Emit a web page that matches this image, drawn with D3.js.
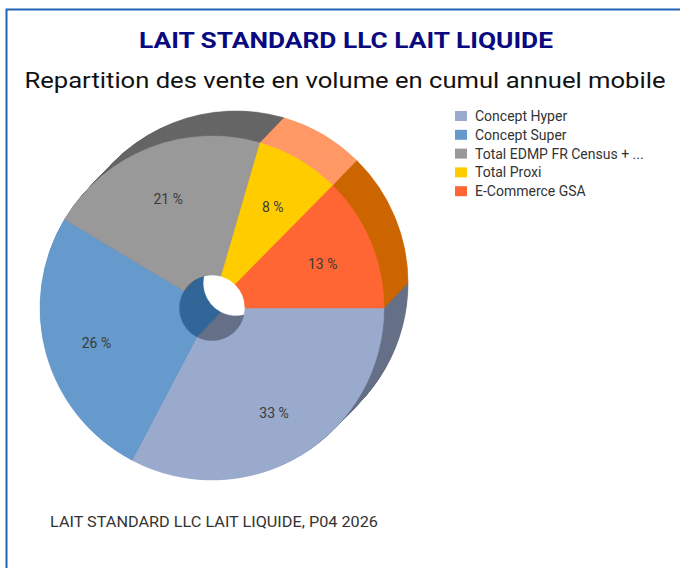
<!DOCTYPE html>
<html>
<head>
<meta charset="utf-8">
<script src="https://cdn.jsdelivr.net/npm/d3@7"></script>
<style>
  body { margin: 0; background: #fff; }
  svg { display: block; }
</style>
</head>
<body>
<svg id="chart" width="680" height="568"></svg>
<script>
const categories = ["Concept Hyper", "Concept Super", "Total EDMP FR Census + ...", "Total Proxi", "E-Commerce GSA"];
const shares = [32.7, 25.9, 20.9, 7.9, 12.6];
const frontColors = ["#99aacc", "#6699cc", "#999999", "#ffcc00", "#ff6633"];
const sideColors = ["#667088", "#336699", "#666666", "#ff9966", "#cc6600"];

const title = "LAIT STANDARD LLC LAIT LIQUIDE";
const subtitle = "Repartition des vente en volume en cumul annuel mobile";
const footer = "LAIT STANDARD LLC LAIT LIQUIDE, P04 2026";

const svg = d3.select("#chart");
const font = "Roboto, 'Noto Sans', sans-serif";

// frame
svg.append("path")
  .attr("d", "M6.5,700 V9.5 H700")
  .attr("fill", "none")
  .attr("stroke", "#1f62b4")
  .attr("stroke-width", 2);

svg.append("text")
  .attr("x", 346).attr("y", 48)
  .attr("text-anchor", "middle")
  .attr("font-family", font)
  .attr("font-weight", "bold")
  .attr("font-size", 22)
  .attr("fill", "#0a0a80")
  .attr("textLength", 414)
  .attr("lengthAdjust", "spacingAndGlyphs")
  .text(title);

svg.append("text")
  .attr("x", 345).attr("y", 88)
  .attr("text-anchor", "middle")
  .attr("font-family", font)
  .attr("font-size", 22)
  .attr("fill", "#111")
  .attr("textLength", 641)
  .attr("lengthAdjust", "spacingAndGlyphs")
  .text(subtitle);

// pie
const cx = 212, cy = 308, r = 172, hole = 33;
const depth = {x: 24, y: -25};

const pie = d3.pie().sort(null)
  .startAngle(Math.PI / 2)
  .endAngle(Math.PI / 2 + 2 * Math.PI);
const arcs = pie(shares);
const arc = d3.arc().innerRadius(hole).outerRadius(r);

// extruded sides: stack layers from the back to the front
const steps = 40;
for (let i = steps; i >= 1; i--) {
  const t = i / steps;
  svg.append("g")
    .attr("transform", `translate(${cx + depth.x * t},${cy + depth.y * t})`)
    .selectAll("path")
    .data(arcs)
    .join("path")
    .attr("d", arc)
    .attr("fill", (d, j) => sideColors[j])
    .attr("stroke", (d, j) => sideColors[j])
    .attr("stroke-width", 0.6);
}

const front = svg.append("g").attr("transform", `translate(${cx},${cy})`);
front.selectAll("path")
  .data(arcs)
  .join("path")
  .attr("d", arc)
  .attr("fill", (d, j) => frontColors[j])
  .attr("stroke", (d, j) => frontColors[j])
  .attr("stroke-width", 0.5);

const labelArc = d3.arc().innerRadius(120).outerRadius(120);
front.selectAll("text")
  .data(arcs)
  .join("text")
  .attr("transform", d => `translate(${labelArc.centroid(d)})`)
  .attr("text-anchor", "middle")
  .attr("dy", "0.55em")
  .attr("font-family", font)
  .attr("font-size", 14)
  .attr("fill", "#3a3a3a")
  .text(d => Math.round(d.data) + " %");

// legend
const legend = svg.append("g").attr("transform", "translate(455,111)");
const row = legend.selectAll("g")
  .data(categories)
  .join("g")
  .attr("transform", (d, i) => `translate(0,${i * 18.8})`);
row.append("rect")
  .attr("width", 12).attr("height", 10)
  .attr("fill", (d, i) => frontColors[i]);
row.append("text")
  .attr("x", 20).attr("y", 5)
  .attr("dy", "0.35em")
  .attr("font-family", font)
  .attr("font-size", 14)
  .attr("fill", "#333")
  .text(d => d);

svg.append("text")
  .attr("x", 50).attr("y", 527)
  .attr("font-family", font)
  .attr("font-size", 14)
  .attr("fill", "#333")
  .attr("textLength", 328)
  .attr("lengthAdjust", "spacingAndGlyphs")
  .text(footer);
</script>
</body>
</html>
